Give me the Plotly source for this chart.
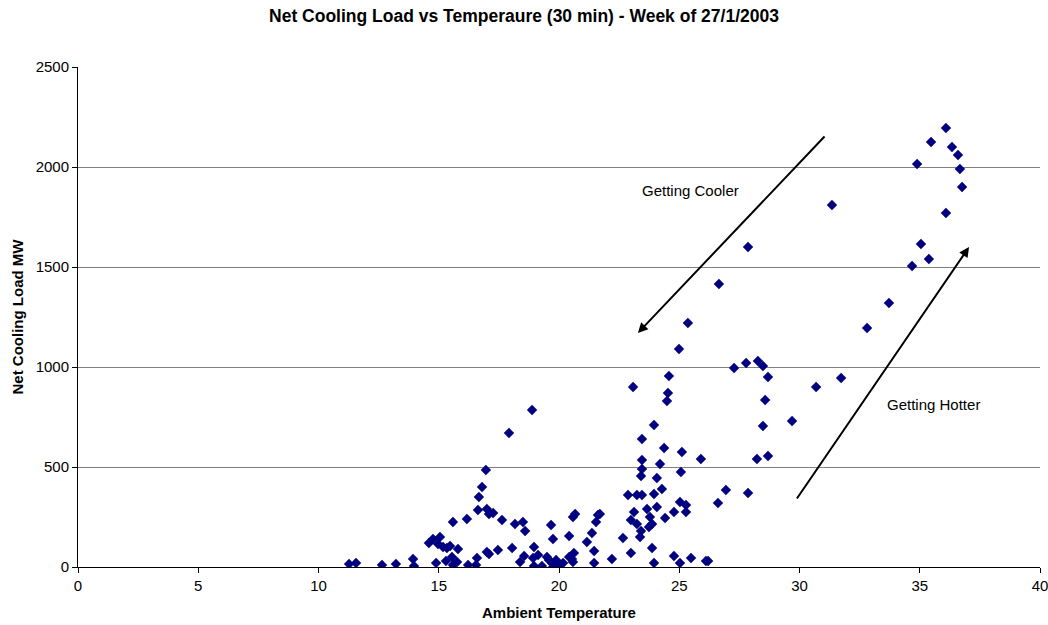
import plotly.graph_objects as go

# Ambient temperature (deg C) and net cooling load (MW), 30-min samples
temperature = [
    11.27, 11.56, 12.64, 13.22, 13.93, 13.97, 14.59, 14.76, 14.89, 15.05,
    14.97, 15.18, 15.34, 15.47, 15.30, 15.55, 15.59, 15.76, 15.80, 15.59,
    16.17, 16.22, 16.55, 16.59, 16.63, 16.67, 16.80, 16.96, 17.00, 17.09,
    17.26, 17.00, 17.09, 17.46, 17.63, 17.92, 18.05, 18.17, 18.38, 18.50,
    18.59, 18.55, 18.88, 18.96, 18.92, 19.13, 18.96, 19.29, 19.50, 19.67,
    19.75, 19.58, 19.71, 19.88, 19.92, 19.75, 20.04, 20.17, 20.42, 20.42,
    20.54, 20.62, 20.58, 20.58, 20.67, 21.16, 21.37, 21.46, 21.46, 21.54,
    21.62, 21.70, 22.20, 22.66, 22.87, 22.99, 22.99, 23.08, 23.12, 23.24,
    23.24, 23.45, 23.37, 23.41, 23.45, 23.41, 23.45, 23.45, 23.66, 23.74,
    23.78, 23.87, 23.87, 23.95, 23.95, 23.95, 24.07, 24.07, 24.20, 24.28,
    24.37, 24.41, 24.49, 24.53, 24.57, 24.78, 24.78, 24.99, 25.03, 25.03,
    25.07, 25.11, 25.28, 25.28, 25.36, 25.49, 25.90, 26.11, 26.20, 26.61,
    26.65, 26.94, 27.28, 27.78, 27.86, 27.86, 28.23, 28.27, 28.48, 28.48,
    28.57, 28.69, 28.69, 29.69, 30.69, 31.35, 31.73, 32.81, 33.72, 34.68,
    34.89, 35.05, 35.38, 35.47, 36.09, 36.09, 36.34, 36.59, 36.67, 36.76,
]
cooling_load = [
    15, 20, 10, 15, 40, 5, 120, 140, 20, 150,
    115, 100, 95, 105, 30, 50, 10, 25, 90, 225,
    240, 10, 10, 45, 285, 350, 400, 485, 290, 265,
    270, 75, 65, 85, 235, 670, 95, 215, 25, 225,
    180, 55, 785, 100, 45, 60, 5, 5, 50, 210,
    140, 35, 20, 35, 10, 0, 10, 20, 155, 50,
    40, 70, 25, 250, 265, 125, 170, 80, 20, 225,
    260, 265, 40, 145, 360, 70, 235, 900, 275, 215,
    360, 360, 150, 180, 490, 455, 535, 640, 290, 200,
    250, 215, 95, 20, 365, 710, 300, 445, 515, 390,
    595, 245, 830, 870, 955, 275, 55, 1090, 325, 20,
    475, 575, 310, 275, 1220, 45, 540, 30, 30, 320,
    1415, 385, 995, 1020, 1600, 370, 540, 1030, 1005, 705,
    835, 950, 555, 730, 900, 1810, 945, 1195, 1320, 1505,
    2015, 1615, 1540, 2125, 2195, 1770, 2100, 2060, 1990, 1900,
]

x_ticks = [0, 5, 10, 15, 20, 25, 30, 35, 40]
y_ticks = [0, 500, 1000, 1500, 2000, 2500]

# Annotation arrows (tail -> head) in data units
cooler_arrow = dict(tail=(31.10, 2160), head=(23.28, 1170))
hotter_arrow = dict(tail=(29.85, 335), head=(37.05, 1600))
cooler_label = (25.45, 1885)
hotter_label = (35.59, 815)

FONT = "Liberation Sans, Arial, sans-serif"

fig = go.Figure()
fig.add_trace(go.Scatter(
    x=temperature, y=cooling_load, mode="markers",
    marker=dict(symbol="diamond", size=8, color="#000080",
                line=dict(width=0)),
    showlegend=False, hoverinfo="x+y",
))

annotations = [
    dict(x=cooler_arrow["head"][0], y=cooler_arrow["head"][1],
         ax=cooler_arrow["tail"][0], ay=cooler_arrow["tail"][1],
         xref="x", yref="y", axref="x", ayref="y", text="",
         showarrow=True, arrowhead=2, arrowsize=1, arrowwidth=2,
         arrowcolor="black"),
    dict(x=hotter_arrow["head"][0], y=hotter_arrow["head"][1],
         ax=hotter_arrow["tail"][0], ay=hotter_arrow["tail"][1],
         xref="x", yref="y", axref="x", ayref="y", text="",
         showarrow=True, arrowhead=2, arrowsize=1, arrowwidth=2,
         arrowcolor="black"),
    dict(x=cooler_label[0], y=cooler_label[1], xref="x", yref="y",
         text="Getting Cooler", showarrow=False,
         font=dict(family=FONT, size=15, color="black")),
    dict(x=hotter_label[0], y=hotter_label[1], xref="x", yref="y",
         text="Getting Hotter", showarrow=False,
         font=dict(family=FONT, size=15, color="black")),
]

fig.update_layout(
    width=1048, height=625,
    margin=dict(l=78, r=8, t=67, b=58, autoexpand=False),
    paper_bgcolor="white", plot_bgcolor="white",
    font=dict(family=FONT, size=15, color="black"),
    title=dict(text="<b>Net Cooling Load vs Temperaure (30 min) - Week of 27/1/2003</b>",
               x=0.5, xref="container", xanchor="center",
               y=1 - 16 / 625, yref="container", yanchor="middle",
               font=dict(family=FONT, size=17.5, color="black")),
    annotations=annotations,
    xaxis=dict(
        range=[0, 40], tickvals=x_ticks, ticktext=[str(v) for v in x_ticks],
        showgrid=False, zeroline=False, automargin=False,
        ticklabeloverflow="allow",
        showline=True, linecolor="black", linewidth=1,
        ticks="outside", ticklen=5, tickcolor="black",
        tickfont=dict(family=FONT, size=15),
        title=dict(text="<b>Ambient Temperature</b>",
                   font=dict(family=FONT, size=15), standoff=14),
    ),
    yaxis=dict(
        range=[0, 2500], tickvals=y_ticks, ticktext=[str(v) for v in y_ticks],
        showgrid=True, gridcolor="#808080", gridwidth=1, zeroline=False,
        automargin=False,
        showline=True, linecolor="black", linewidth=1,
        ticks="outside", ticklen=5, tickcolor="black",
        tickfont=dict(family=FONT, size=15),
        title=dict(text="<b>Net Cooling Load MW</b>",
                   font=dict(family=FONT, size=15), standoff=8),
    ),
)

fig.write_html("out.html")
